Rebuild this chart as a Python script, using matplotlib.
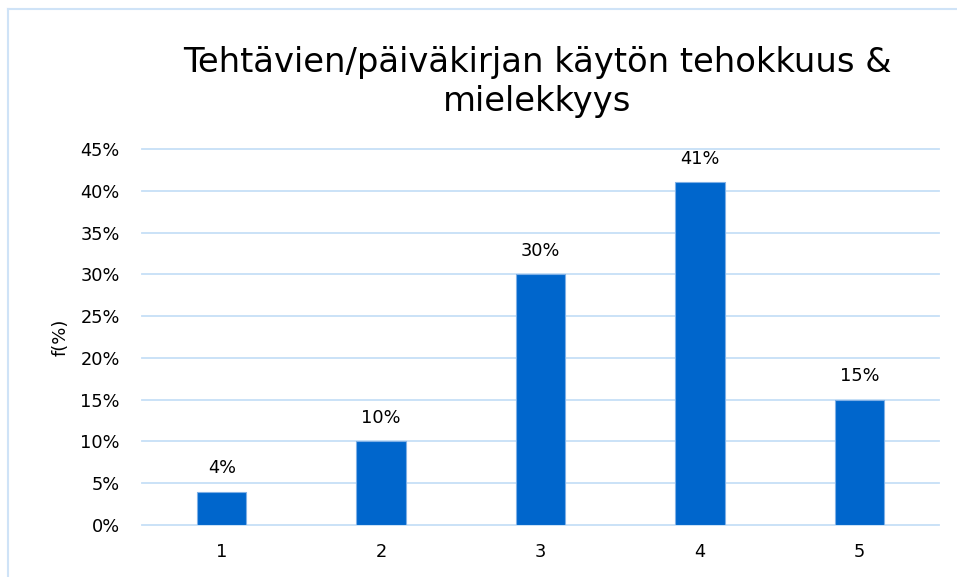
import numpy as np
import matplotlib
matplotlib.use("Agg")
import matplotlib.pyplot as plt
from matplotlib.lines import Line2D
from matplotlib.ticker import FuncFormatter

# data
categories = ["1", "2", "3", "4", "5"]
shares = [0.04, 0.10, 0.30, 0.41, 0.15]
title = "Tehtävien/päiväkirjan käytön tehokkuus &\nmielekkyys"
y_label = "f(%)"

plt.rcParams['font.family'] = ['DejaVu Sans']

W, H = 957, 577
fig = plt.figure(figsize=(W / 100, H / 100), dpi=100)
fig.patch.set_facecolor("white")

# plot area in pixel terms
left, right, top, bottom = 142, 939, 149, 525
ax = fig.add_axes([left / W, 1 - bottom / H, (right - left) / W, (bottom - top) / H])

x = np.arange(1, len(categories) + 1)
bars = ax.bar(x, shares, width=0.31, color="#0066cc", edgecolor="#7fb0e6",
              linewidth=0.8, zorder=3)

ax.set_xlim(0.5, len(categories) + 0.5)
ax.set_ylim(0, 0.45)
ax.set_yticks(np.arange(0, 0.4501, 0.05))
ax.yaxis.set_major_formatter(FuncFormatter(lambda v, p: f"{v * 100:.0f}%"))
ax.set_xticks(x)
ax.set_xticklabels(categories)

ax.grid(axis="y", color="#c6dff7", linewidth=1.3, zorder=0)
for gl in ax.get_ygridlines():
    gl.set_clip_on(False)
for s in ax.spines.values():
    s.set_visible(False)
ax.tick_params(axis="both", length=0, labelsize=12.8, colors="black")
ax.tick_params(axis="y", pad=16)
ax.tick_params(axis="x", pad=13)

# value labels above each bar
for xi, v in zip(x, shares):
    ax.text(xi, v + 0.017, f"{v * 100:.0f}%", ha="center", va="bottom",
            fontsize=12.8, color="black")

ax.set_ylabel(y_label, fontsize=13, labelpad=6)
ax.yaxis.set_label_coords(-72 / (right - left), 0.5)

fig.text(537 / W, 1 - 82 / H, title, ha="center", va="center",
         fontsize=24.3, linespacing=1.2, color="black")

# outer chart border (cut off at the right and bottom in the reference)
bc = "#cfe3f7"
fig.add_artist(Line2D([8 / W, 8 / W], [0, 1 - 9 / H], transform=fig.transFigure,
                      color=bc, linewidth=1.5))
fig.add_artist(Line2D([8 / W, 1], [1 - 9 / H, 1 - 9 / H], transform=fig.transFigure,
                      color=bc, linewidth=1.5))

fig.savefig("out.png", dpi=100)
